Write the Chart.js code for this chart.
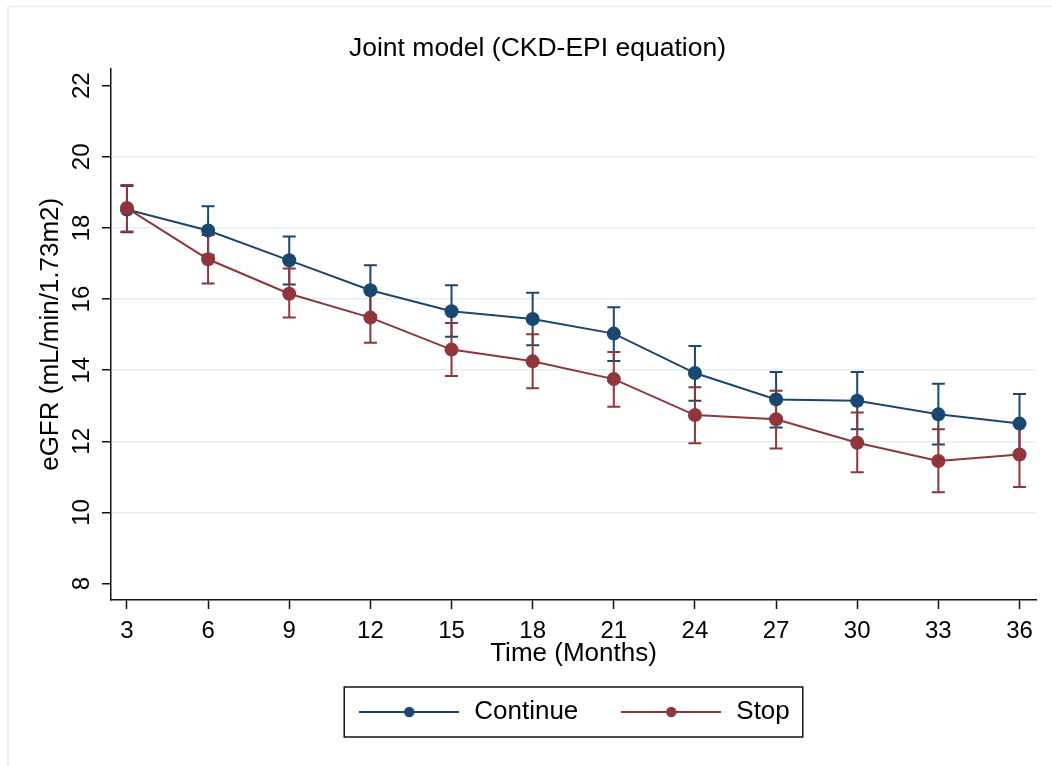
<!DOCTYPE html>
<html>
<head>
<meta charset="utf-8">
<script src="https://cdn.jsdelivr.net/npm/chart.js@4.4.0/dist/chart.umd.min.js"></script>
<style>
  html, body { margin: 0; padding: 0; background: #ffffff; }
  #wrap { width: 1052px; height: 766px; position: relative; }
  canvas { display: block; }
</style>
</head>
<body>
<div id="wrap"><canvas id="c" width="1052" height="766"></canvas></div>
<script>
// ---- Data ----
const months = [3, 6, 9, 12, 15, 18, 21, 24, 27, 30, 33, 36];
const continueMean  = [18.52, 17.93, 17.09, 16.25, 15.66, 15.44, 15.03, 13.92, 13.18, 13.14, 12.76, 12.50];
const continueLower = [17.88, 17.25, 16.41, 15.55, 14.94, 14.70, 14.26, 13.14, 12.39, 12.34, 11.91, 11.67];
const continueUpper = [19.18, 18.61, 17.76, 16.95, 16.39, 16.18, 15.77, 14.68, 13.95, 13.95, 13.62, 13.33];
const stopMean  = [18.56, 17.12, 16.15, 15.48, 14.58, 14.25, 13.75, 12.74, 12.62, 11.96, 11.45, 11.63];
const stopLower = [17.90, 16.44, 15.48, 14.77, 13.84, 13.49, 12.97, 11.95, 11.80, 11.13, 10.57, 10.72];
const stopUpper = [19.21, 17.80, 16.86, 16.19, 15.33, 15.01, 14.51, 13.52, 13.42, 12.81, 12.34, 12.52];
const seriesNames = ['Continue', 'Stop'];
const yTickValues = [8, 10, 12, 14, 16, 18, 20, 22];
const xTickValues = months;

const BLUE = '#1a476f';
const RED = '#90353b';
const FONT = "'Liberation Sans', Arial, Helvetica, sans-serif";

function pts(xs, ys) { return xs.map((x, i) => ({ x: x, y: ys[i] })); }

function legendSwatch(color) {
  const cv = document.createElement('canvas');
  cv.width = 100; cv.height = 14;
  const g = cv.getContext('2d');
  g.strokeStyle = color; g.lineWidth = 2;
  g.beginPath(); g.moveTo(0, 7); g.lineTo(100, 7); g.stroke();
  g.fillStyle = color;
  g.beginPath(); g.arc(50, 7, 5.2, 0, Math.PI * 2); g.fill();
  return cv;
}
const swatches = [legendSwatch(BLUE), legendSwatch(RED)];

const errorBars = [
  { lower: continueLower, upper: continueUpper, color: BLUE },
  { lower: stopLower, upper: stopUpper, color: RED }
];

const errorBarPlugin = {
  id: 'errorBars',
  beforeDatasetsDraw(chart) {
    const { ctx, scales: { x, y } } = chart;
    ctx.save();
    ctx.lineWidth = 2;
    errorBars.forEach(eb => {
      ctx.strokeStyle = eb.color;
      months.forEach((m, i) => {
        const px = x.getPixelForValue(m);
        const pl = y.getPixelForValue(eb.lower[i]);
        const pu = y.getPixelForValue(eb.upper[i]);
        ctx.beginPath();
        ctx.moveTo(px, pl); ctx.lineTo(px, pu);
        ctx.moveTo(px - 6.5, pl); ctx.lineTo(px + 6.5, pl);
        ctx.moveTo(px - 6.5, pu); ctx.lineTo(px + 6.5, pu);
        ctx.stroke();
      });
    });
    ctx.restore();
  }
};

const framePlugin = {
  id: 'frame',
  beforeDraw(chart) {
    const ctx = chart.ctx;
    ctx.save();
    ctx.fillStyle = '#ffffff';
    ctx.fillRect(0, 0, chart.width, chart.height);
    ctx.strokeStyle = '#e6eef1';
    ctx.lineWidth = 1.5;
    ctx.beginPath();
    ctx.moveTo(8, chart.height); ctx.lineTo(8, 6.5); ctx.lineTo(chart.width, 6.5);
    ctx.stroke();
    ctx.restore();
  },
  afterDraw(chart) {
    const lg = chart.legend;
    if (!lg || !lg.legendHitBoxes || !lg.legendHitBoxes.length) return;
    const hb = lg.legendHitBoxes;
    const first = hb[0], last = hb[hb.length - 1];
    const cy = first.top + first.height / 2;
    const ctx = chart.ctx;
    ctx.save();
    ctx.strokeStyle = '#111';
    ctx.lineWidth = 1.5;
    const l = first.left - 13, r = last.left + last.width + 13;
    ctx.strokeRect(l, cy - 25, r - l, 50);
    ctx.restore();
  }
};

new Chart(document.getElementById('c'), {
  type: 'line',
  data: {
    datasets: [
      {
        label: seriesNames[0],
        data: pts(months, continueMean),
        borderColor: BLUE, backgroundColor: BLUE,
        borderWidth: 2, pointRadius: 7, pointBorderWidth: 0,
        pointBackgroundColor: BLUE, tension: 0, order: 1
      },
      {
        label: seriesNames[1],
        data: pts(months, stopMean),
        borderColor: RED, backgroundColor: RED,
        borderWidth: 2, pointRadius: 7, pointBorderWidth: 0,
        pointBackgroundColor: RED, tension: 0, order: 0
      }
    ]
  },
  options: {
    responsive: false,
    animation: false,
    devicePixelRatio: 1,
    layout: { padding: { left: 39, right: 16, top: 0, bottom: 31 } },
    plugins: {
      tooltip: { enabled: false },
      title: {
        display: true,
        text: 'Joint model (CKD-EPI equation)',
        color: '#000',
        font: { family: FONT, size: 26.5, weight: 'normal' },
        padding: { top: 32.4, bottom: 4.4 }
      },
      legend: {
        display: true,
        position: 'bottom',
        fullSize: false,
        labels: {
          usePointStyle: true,
          pointStyleWidth: 104,
          padding: 41,
          color: '#000',
          font: { family: FONT, size: 26 },
          generateLabels() {
            return seriesNames.map((n, i) => ({
              text: n,
              pointStyle: swatches[i],
              fillStyle: i ? RED : BLUE,
              strokeStyle: i ? RED : BLUE,
              lineWidth: 0,
              hidden: false,
              datasetIndex: i,
              fontColor: '#000'
            }));
          }
        }
      }
    },
    scales: {
      x: {
        type: 'linear',
        min: 2.41,
        max: 36.61,
        afterFit(s) { s.height = 58; },
        afterBuildTicks(s) { s.ticks = xTickValues.map(v => ({ value: v })); },
        ticks: {
          stepSize: 3,
          includeBounds: false,
          color: '#000',
          padding: 8,
          maxRotation: 0,
          font: { family: FONT, size: 24 }
        },
        grid: {
          drawOnChartArea: false,
          drawTicks: true,
          tickLength: 9,
          tickWidth: 1.5,
          tickColor: '#111'
        },
        border: { display: true, color: '#111', width: 1.5 },
        title: {
          display: true,
          text: 'Time (Months)',
          color: '#000',
          font: { family: FONT, size: 26 },
          padding: { top: 0, bottom: -11.6 }
        }
      },
      y: {
        type: 'linear',
        min: 7.54,
        max: 22.48,
        afterFit(s) { s.width = 72; },
        afterBuildTicks(s) { s.ticks = yTickValues.map(v => ({ value: v })); },
        ticks: {
          stepSize: 2,
          includeBounds: false,
          color: '#000',
          padding: 6,
          minRotation: 90,
          maxRotation: 90,
          crossAlign: 'center',
          font: { family: FONT, size: 24 }
        },
        grid: {
          drawOnChartArea: true,
          color: ctx => (ctx.tick && (ctx.tick.value === 8 || ctx.tick.value === 22)) ? 'rgba(0,0,0,0)' : '#e4edf0',
          lineWidth: 1.5,
          tickLength: 9,
          tickWidth: 1.5,
          tickColor: '#111'
        },
        border: { display: true, color: '#111', width: 1.5 },
        title: {
          display: true,
          text: 'eGFR (mL/min/1.73m2)',
          color: '#000',
          font: { family: FONT, size: 26 },
          padding: { top: -3.6, bottom: 0 }
        }
      }
    }
  },
  plugins: [framePlugin, errorBarPlugin]
});
</script>
</body>
</html>
